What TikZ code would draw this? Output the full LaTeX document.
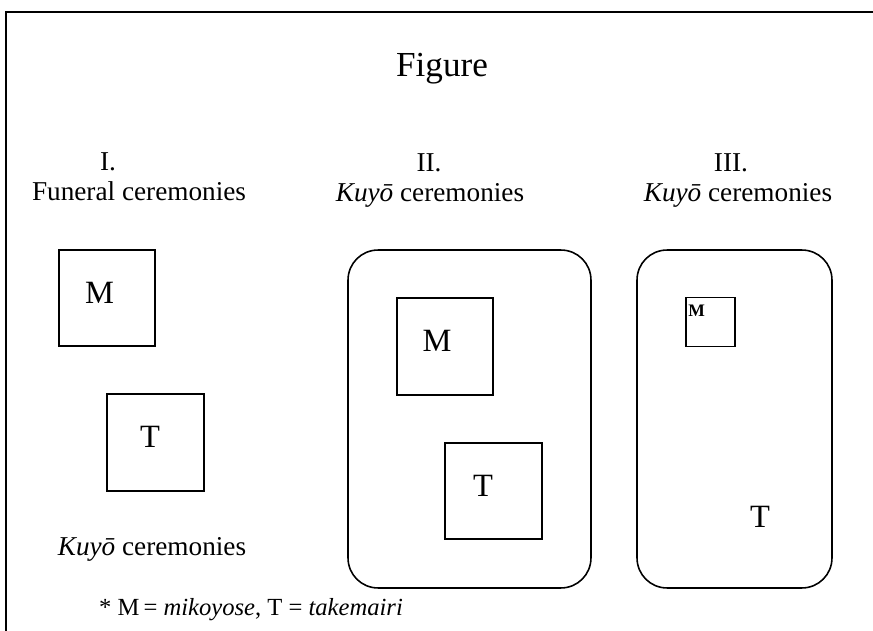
\documentclass[tikz,border=0pt]{standalone}
\usepackage{fontspec}
\setmainfont{Liberation Serif}
\usepackage{tikz}
\usetikzlibrary{positioning}
\tikzset{
every picture/.style={line width=0.9pt, x=0.02cm, y=-0.02cm},
%%%%%%%%%%  Node styles
title/.style={anchor=base, inner sep=0pt, font=\fontsize{20}{24}\selectfont},
heading/.style={anchor=base, inner sep=0pt, font=\fontsize{15.5}{18}\selectfont},
note/.style={anchor=base, inner sep=0pt, font=\fontsize{14}{17}\selectfont},
letter/.style={inner sep=0pt, font=\fontsize{18.5}{22}\selectfont},
small_letter/.style={anchor=base west, inner sep=0pt,
                     font=\fontsize{10}{12}\selectfont\bfseries},
square/.style={draw, rectangle, minimum size=#1, inner sep=0pt},
square/.default=1.93cm,
%%%% the rounded frames for II and III
group/.style args={#1,#2}{draw, rectangle, rounded corners=0.6cm,
                  minimum width=#1, minimum height=#2, inner sep=0pt},
frame/.style={line width=1.2pt}
}

\begin{document}
\begin{tikzpicture}
\useasboundingbox (0,0) rectangle (873,631);
%% the page frame, open to the right and below
\coordinate (ftl) at (6,12);
\coordinate (ftr) at (873,12);
\coordinate (fbl) at (6,631);
\draw[frame] (ftr) -- (ftl) -- (fbl);
\node[title] (fig) at (442,77) {Figure};
%%%%%%%%%%%%%%%%%%%%%%%%%%%%%%%%%%%%%%%%%%%%%%%%%%%%
%% I.
\begin{scope}
\node[heading] (h1) at (108,171) {I.};
\node[heading] (s1) at (139,201) {Funeral ceremonies};
\node[square] (m1) at (107,298) {};
\node[square] (t1) at (155.5,442.5) {};
\node[letter] (m1l) at (99.5,293) {M};
\node[letter] (t1l) at (150,437) {T};
\node[heading] (k1) at (152,556) {\textit{Kuyō} ceremonies};
\end{scope}
%%%%%%%%%%%%%%%%%%%%%%%%%%%%%%%%%%%%%%%%%%%%%%%%%%%%
%% II.
\begin{scope}
\node[heading] (h2) at (429,172) {II.};
\node[heading] (s2) at (430,202) {\textit{Kuyō} ceremonies};
\node[group={4.86cm,6.76cm}] (g2) at (469.5,419) {};
\node[square] (m2) at (445,346.5) {};
\node[square] (t2) at (493.5,491) {};
\node[letter] (m2l) at (437,341) {M};
\node[letter] (t2l) at (483,486) {T};
\end{scope}
%%%%%%%%%%%%%%%%%%%%%%%%%%%%%%%%%%%%%%%%%%%%%%%%%%%%
%% III.
\begin{scope}
\node[heading] (h3) at (731,172) {III.};
\node[heading] (s3) at (738,202) {\textit{Kuyō} ceremonies};
\node[group={3.9cm,6.76cm}] (g3) at (734.5,419) {};
\node[square=0.98cm] (m3) at (710.5,322) {};
\node[small_letter] (m3l) at (687.5,317) {M};
\node[letter] (t3l) at (760,517) {T};
\end{scope}
%% footnote
\node[note] (fn) at (251,616) {* M\,= \textit{mikoyose}, T = \textit{takemairi}};
\end{tikzpicture}
\end{document}
